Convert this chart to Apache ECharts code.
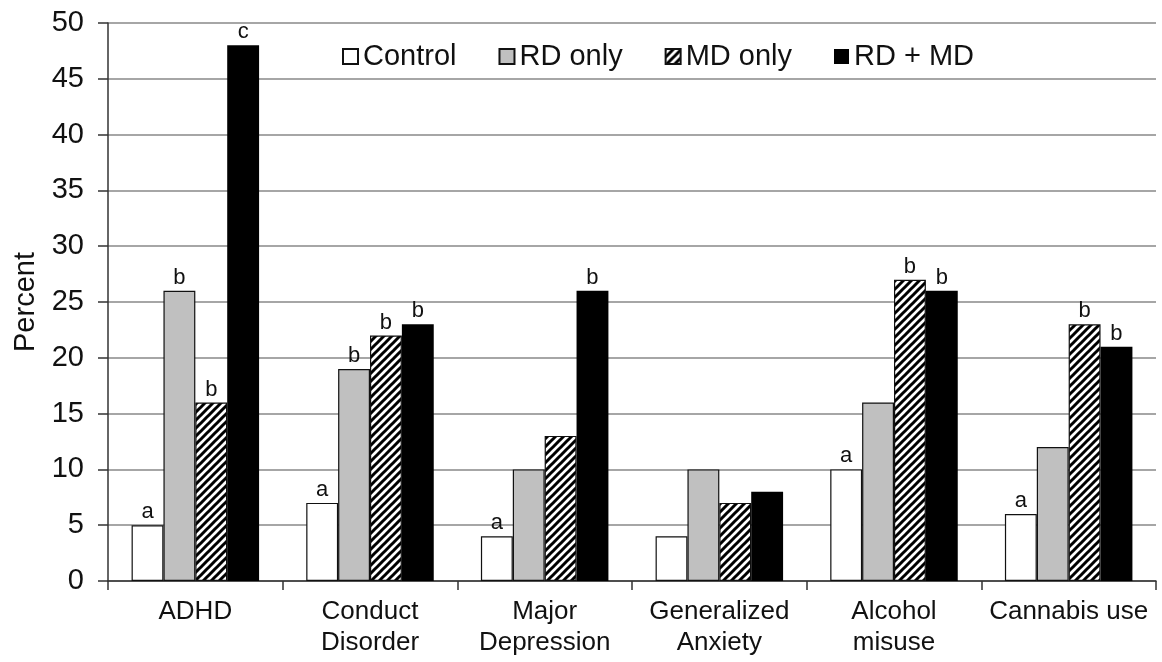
<!DOCTYPE html>
<html>
<head>
<meta charset="utf-8">
<script src="https://cdn.jsdelivr.net/npm/echarts@6/dist/echarts.min.js"></script>
<style>html,body{margin:0;padding:0;background:#fff}#c{width:1162px;height:662px}</style>
</head>
<body>
<div id="c"></div>
<script>
var categories = ['ADHD', 'Conduct\nDisorder', 'Major\nDepression', 'Generalized\nAnxiety', 'Alcohol\nmisuse', 'Cannabis use'];
var seriesNames = ['Control', 'RD only', 'MD only', 'RD + MD'];
var control = [5, 7, 4, 4, 10, 6];
var rdOnly = [26, 19, 10, 10, 16, 12];
var mdOnly = [16, 22, 13, 7, 27, 23];
var rdMd = [48, 23, 26, 8, 26, 21];
var controlLetters = ['a', 'a', 'a', '', 'a', 'a'];
var rdOnlyLetters = ['b', 'b', '', '', '', ''];
var mdOnlyLetters = ['b', 'b', '', '', 'b', 'b'];
var rdMdLetters = ['c', 'b', 'b', '', 'b', 'b'];
var yTicks = { min: 0, max: 50, interval: 5 };

function hatch() {
  var p = 8, cv = document.createElement('canvas');
  cv.width = p; cv.height = p;
  var g = cv.getContext('2d');
  g.fillStyle = '#fff'; g.fillRect(0, 0, p, p);
  g.strokeStyle = '#000'; g.lineWidth = 3; g.lineCap = 'square';
  g.beginPath();
  g.moveTo(0, p); g.lineTo(p, 0);
  g.moveTo(-p / 2, p / 2); g.lineTo(p / 2, -p / 2);
  g.moveTo(p / 2, p * 1.5); g.lineTo(p * 1.5, p / 2);
  g.stroke();
  return cv;
}
var hatchFill = { image: hatch(), repeat: 'repeat' };

var font = 'Liberation Sans, Arial, sans-serif';
function mk(name, data, letters, fill, border) {
  return {
    name: name, type: 'bar', data: data,
    barGap: '0%', barCategoryGap: '27%',
    itemStyle: { color: fill, borderColor: '#111', borderWidth: border },
    label: {
      show: true, position: 'top', distance: 2,
      fontFamily: font, fontSize: 22, color: '#111',
      formatter: function (p) { return letters[p.dataIndex]; }
    },
    emphasis: { disabled: true }, animation: false
  };
}
var chart = echarts.init(document.getElementById('c'), null, { renderer: 'canvas' });
chart.setOption({
  animation: false,
  grid: { left: 108, right: 6, top: 23, bottom: 81 },
  legend: {
    top: 37, left: 337, icon: 'rect', itemWidth: 15, itemHeight: 15, itemGap: 42,
    textStyle: { fontFamily: font, fontSize: 29, color: '#111' },
    data: seriesNames
  },
  xAxis: {
    type: 'category', data: categories,
    axisLine: { lineStyle: { color: '#333', width: 1.5 } },
    axisTick: { show: true, length: 9, lineStyle: { color: '#333', width: 1.5 } },
    axisLabel: { fontFamily: font, fontSize: 26, color: '#111', margin: 15, lineHeight: 31, interval: 0 }
  },
  yAxis: {
    type: 'value', min: yTicks.min, max: yTicks.max, interval: yTicks.interval,
    name: 'Percent', nameLocation: 'middle', nameGap: 62, nameRotate: 90,
    nameTextStyle: { fontFamily: font, fontSize: 29, color: '#111' },
    axisLine: { show: true, lineStyle: { color: '#333', width: 1.5 } },
    axisTick: { show: true, length: 10, lineStyle: { color: '#333', width: 1.5 } },
    axisLabel: { fontFamily: font, fontSize: 29, color: '#111', margin: 24 },
    splitLine: { lineStyle: { color: '#888', width: 1.5 } }
  },
  series: [
    mk(seriesNames[0], control, controlLetters, '#ffffff', 1.2),
    mk(seriesNames[1], rdOnly, rdOnlyLetters, '#c0c0c0', 1.2),
    mk(seriesNames[2], mdOnly, mdOnlyLetters, hatchFill, 1.2),
    mk(seriesNames[3], rdMd, rdMdLetters, '#000000', 0)
  ]
});
</script>
</body>
</html>
